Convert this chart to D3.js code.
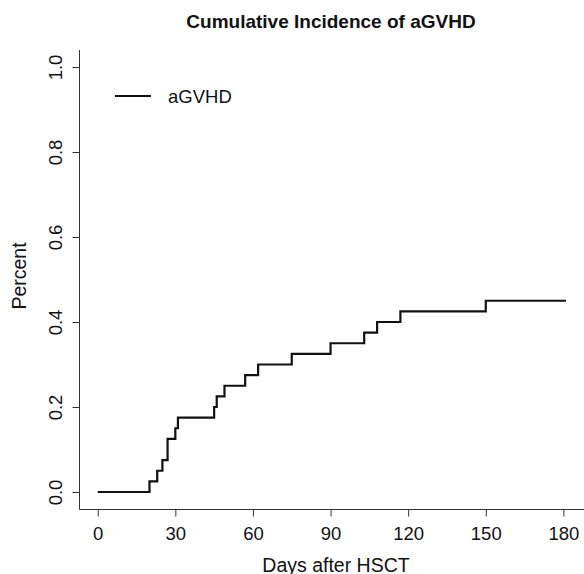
<!DOCTYPE html>
<html><head><meta charset="utf-8">
<script src="https://cdn.jsdelivr.net/npm/d3@7"></script>
<style>body{margin:0;background:#fff}</style>
</head><body>
<svg id="c" width="584" height="574"></svg>
<script>
const times  = [0, 20, 23, 25, 27, 30, 31, 45, 46, 49, 57, 62, 75, 90, 103, 108, 117, 150, 181];
const values = [0, 0.025, 0.05, 0.075, 0.125, 0.15, 0.175, 0.2, 0.225, 0.25, 0.275, 0.3, 0.325, 0.35, 0.375, 0.4, 0.425, 0.45, 0.45];
const xTicks = [0, 30, 60, 90, 120, 150, 180];
const yTicks = [0, 0.2, 0.4, 0.6, 0.8, 1.0];
const seriesName = "aGVHD";

const font = "'Liberation Sans', Arial, sans-serif";
const svg = d3.select("#c");
const x = d3.scaleLinear().domain([-7.2, 187.2]).range([79.1, 582]);
const y = d3.scaleLinear().domain([-0.04, 1.04]).range([509, 50]);

// axes lines (L-shaped box)
svg.append("line").attr("x1", 79.5).attr("x2", 79.5).attr("y1", 50).attr("y2", 509.5).attr("stroke", "#333").attr("stroke-width", 1);
svg.append("line").attr("x1", 79.5).attr("x2", 584).attr("y1", 509.5).attr("y2", 509.5).attr("stroke", "#333").attr("stroke-width", 1);

const xa = svg.append("g").attr("transform", "translate(0,509.5)")
  .call(d3.axisBottom(x).tickValues(xTicks).tickSize(7).tickFormat(d3.format("d")));
xa.select(".domain").remove();
xa.selectAll("line").attr("stroke", "#333");
xa.selectAll("text").attr("font-family", font).attr("font-size", 18.5).attr("fill", "#111")
  .attr("y", 30).attr("dy", 0);

const ya = svg.append("g").attr("transform", "translate(79.5,0)")
  .call(d3.axisLeft(y).tickValues(yTicks).tickSize(7).tickFormat(d3.format(".1f")));
ya.select(".domain").remove();
ya.selectAll("line").attr("stroke", "#333");
ya.selectAll(".tick text").attr("font-family", font).attr("font-size", 18.5).attr("fill", "#111")
  .attr("text-anchor", "middle").attr("x", 0).attr("y", 0).attr("dy", 0)
  .attr("transform", "translate(-17.5,0) rotate(-90)");

// curve
const pts = times.map((t, i) => [t, values[i]]);
const line = d3.line().x(d => x(d[0])).y(d => y(d[1])).curve(d3.curveStepAfter);
svg.append("path").attr("d", line(pts)).attr("fill", "none").attr("stroke", "#111").attr("stroke-width", 2.2);

// title
svg.append("text").attr("x", 331).attr("y", 28).attr("text-anchor", "middle")
  .attr("font-family", font).attr("font-weight", "bold").attr("font-size", 19).attr("fill", "#111")
  .text("Cumulative Incidence of aGVHD");

// axis titles
svg.append("text").attr("x", 336).attr("y", 571.5).attr("text-anchor", "middle")
  .attr("font-family", font).attr("font-size", 19.5).attr("fill", "#111").text("Days after HSCT");
svg.append("text").attr("transform", "translate(25.5,276) rotate(-90)").attr("text-anchor", "middle")
  .attr("font-family", font).attr("font-size", 19.5).attr("fill", "#111").text("Percent");

// legend
svg.append("line").attr("x1", 115).attr("x2", 151).attr("y1", 96).attr("y2", 96).attr("stroke", "#111").attr("stroke-width", 2);
svg.append("text").attr("x", 168).attr("y", 102.5).attr("font-family", font).attr("font-size", 18.5).attr("fill", "#111").text(seriesName);
</script>
</body></html>
